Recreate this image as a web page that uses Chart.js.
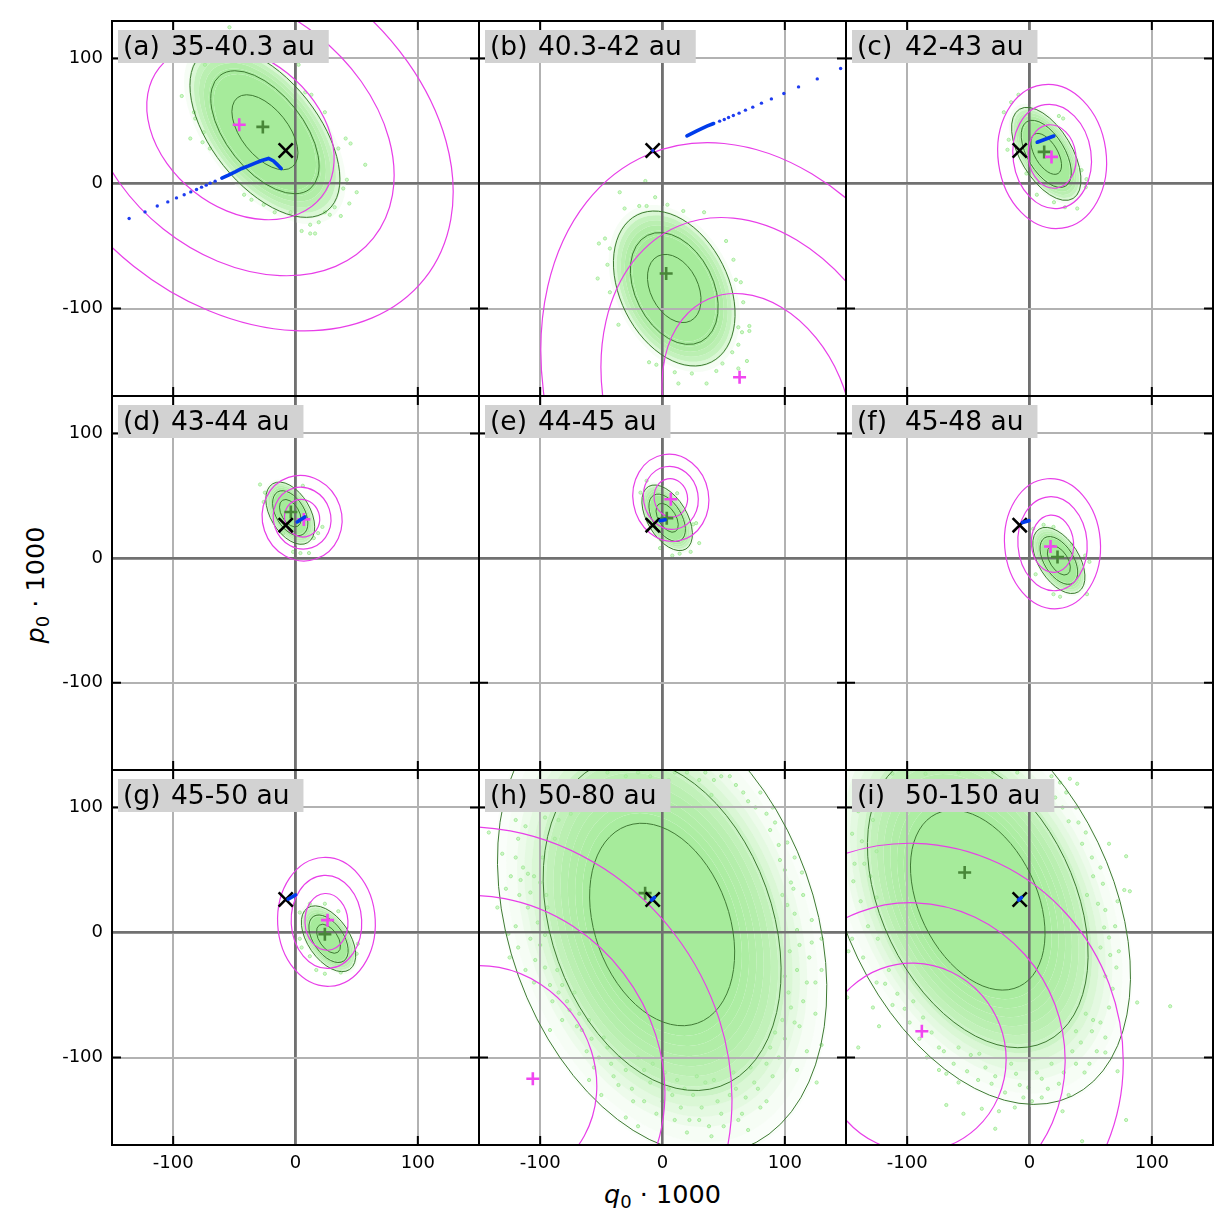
<!DOCTYPE html>
<html><head><meta charset="utf-8">
<script src="https://cdn.jsdelivr.net/npm/chart.js@4"></script>
<style>
html,body{margin:0;padding:0;background:#fff;width:1232px;height:1224px;overflow:hidden}
canvas{position:absolute;display:block}
.ax{position:absolute;font-family:"DejaVu Sans";font-size:25.5px;color:#000;white-space:nowrap;line-height:30px}
.ax sub{font-size:18px;line-height:0;vertical-align:-5px}
</style></head><body>
<div class="ax" style="left:604px;top:1179px"><i>q</i><sub>0</sub> · 1000</div>
<div class="ax" style="left:35px;top:585px;transform:translate(-50%,-50%) rotate(-90deg)"><i>p</i><sub>0</sub> · 1000</div>
<script>
const panelTags=["(a)","(b)","(c)","(d)","(e)","(f)","(g)","(h)","(i)"];
const panelRanges=["35-40.3 au","40.3-42 au","42-43 au","43-44 au","44-45 au","45-48 au","45-50 au","50-80 au","50-150 au"];
const tickValues=[-100,0,100];
const contourLevels=[1,1.64,2.27];
// centre q, centre p, half-width, half-height, correlation of the innermost contour
const greenContours=[[-25,41,27,30,-.55],[9.6,-84,21.9,27.3,-.33],[13.7,23.7,12.5,16.4,-.56],[-4.3,36,8.8,11,-.45],[3.8,32.3,9.1,11.6,-.5],[24,-1.9,9.4,11.7,-.5],[27,-5,9.8,11.6,-.5],[-.3,6.4,59.3,81,-.28],[-42.3,25.9,55,72,-.37]];
const magentaContours=[[-45,41,76.6,70,-.3],[77.6,-183,78,95,-.23],[18.5,21.6,19.6,25.4,-.08],[5.4,32,14.4,15.1,-.05],[6.8,48.3,13.7,15.4,-.05],[18.8,11.5,17.3,23,-.05],[25.3,8.5,17.6,22.7,-.03],[-140.7,-114,87,87.5,-.1],[-94.5,-100,75.4,75.5,-.02]];
// density of the sample cloud: [contour scale, tone], outermost first
const compactCloud=[[2.45,.1],[2.3,.42],[2.15,.66],[2.0,.78],[1.85,.88],[1.7,.96],[1.55,1]];
const wideCloud=[[2.3,.05],[2.15,.1],[2.0,.2],[1.9,.3],[1.8,.42],[1.7,.58],[1.6,.7],[1.5,.78],[1.4,.84],[1.3,.88],[1.2,.92],[1.1,.96],[1,1]];
const cloudBands=[compactCloud,compactCloud,compactCloud,compactCloud,compactCloud,compactCloud,compactCloud,wideCloud,wideCloud];
const greenPlus=[[-26.7,45.3],[3,-72],[12,25.3],[-3.8,37],[3.5,32],[22.9,.8],[24,-1.3],[-14.2,31.5],[-53,48]];
const magentaPlus=[[-46,47],[63,-155],[18,21.3],[6.8,31],[6.8,47.2],[17.2,9.3],[26.2,9.9],[-106,-117],[-88,-79]];
const blackCross=[-8,26.4];
const blueTrails=[
 [[-11.7,12],[-15.3,15.5],[-18,18.1],[-22,20],[-27.5,18.4],[-33,16.3],[-38.4,14.1],[-43.9,12],[-49.3,9.3],[-54.8,6.7],[-60.2,4.3]],
 [[20,38.1],[28.1,42.1],[36.3,45.9],[41.8,48]],
 [[6.3,33],[19.9,38]],[[1.4,29],[7.6,33]],[[-1.9,29.9],[2.2,30.7]],[[-5.7,28.5],[-.5,30]],[[-6,26.7],[0,30]],
 [[-9,26],[-6.5,28]],[[-9,26],[-6.5,28]]];
const blueDots=[
 [[-65.7,1.9],[-69.8,.3],[-73,-1.3],[-76.8,-2.9],[-80.9,-4.8],[-85.6,-6.7],[-91,-9],[-97.3,-11.5],[-104.4,-14.7],[-113,-18],[-123,-22.7],[-136,-28]],
 [[-8,26.4],[46.7,49.9],[50.5,51.2],[54,52.8],[57.9,54.4],[62.6,56.3],[67.8,58.7],[73.8,61.1],[80.9,64.3],[89,67.7],[99.2,72],[111.2,77.3],[126.5,83.7],[145.6,92]],
 [],[],[],[],[],[],[]];
const cloudDots=[
 [[-54,125],[-93,70],[-86,36],[-76,33],[41,36],[45,32],[35,28],[57,15],[42,3],[50,-7],[44,-16],[37,-26],[28,-25],[5,-38],[12,-40],[16,-40],[12,-33],[19,-31],[-26,-17],[-42,-9],[-36,-13],[-17,-23],[-4,-23],[24,-23],[32,-19],[39,-4],[-82,52],[-83,57],[-74,95],[-75,41],[-70,28],[24,57],[13,71],[2.5,95],[8,73]],
 [[-14,2],[-35,-7],[-6,-11],[-31,-20],[-19,-18],[-13,-18],[4,-17],[17,-22],[34,-23],[-47,-44],[-52,-48],[-43,-52],[-45,-65],[-53,-76],[52,-46],[58,-61],[60,-77],[64,-79],[66,-95],[71,-114],[71,-118],[62,-115],[65,-119],[62,-129],[57,-135],[69,-142],[62,-148],[49,-144],[44,-150],[36,-160],[13,-160],[10,-151],[24,-152],[-5,-145],[-11,-143],[-36,-113],[-43,-87]],
 [[-9,71],[-15,65],[-21,57],[27.5,52],[24,54],[-18,27],[-17,35],[46.6,3.5],[46,-3],[42.5,10.7],[39,-20],[29,-19],[20,-15],[6,-9],[-2.5,8]],
 [[-29,59],[-25,52.5],[-26,45],[6,58],[22,25],[18.5,20],[15,16],[11,4],[4,4],[-2,5],[-10,20]],
 [[-18,52.5],[-13,62],[12,52],[30,12],[25,27],[23,5],[8,2],[14,3.5],[-2,8],[27.5,28]],
 [[3,23.5],[11.5,26.7],[19.6,25],[5,-13],[49,-3],[47,-29],[25,-31],[19.6,-29],[45.5,2],[34.6,10.7]],
 [[3.5,16],[11.7,23],[24,23],[35,17],[3.5,-5],[5,-12],[11.7,-19],[17,-30],[24,-33],[37,-32],[50,-17],[51,-9]],
 [[-142,80],[-131,63],[-120,90],[-120,60],[-114,52],[-110,47],[-128,35],[-135,20],[-120,5],[-117,30],[-105,45],[-110,20],[-126,-1],[-108,-5],[-112,-30],[-105,-40],[-100,-10],[-90,-55],[-85,-48],[-82,-70],[-78,-55],[-70,-75],[-68,-65],[-92,-78],[-58,-85],[-52,-100],[-45,-92],[-40,-115],[-35,-100],[-25,-125],[-15,-110],[-15,-135],[-5,-145],[5,-125],[10,-150],[15,-140],[25,-130],[30,-150],[35,-120],[45,-135],[50,-155],[60,-125],[65,-145],[75,-120],[80,-140],[90,-115],[95,-100],[100,-85],[112,-75],[118,-95],[105,-60],[115,-55],[125,-40],[120,-20],[112,-10],[130,-5],[122,10],[108,15],[115,30],[125,-65],[105,40],[100,50],[108,60],[95,70],[88,82],[90,100],[80,112],[70,105],[60,118],[48,125],[40,110],[30,122],[100,-35],[130,-30],[-95,30],[-98,60],[-88,75],[-75,95],[-60,110],[-50,120],[-30,125],[-10,125],[10,128],[-70,115],[-125,-20],[-60,-118],[-50,-130],[-30,-148],[-20,-155],[20,-160],[40,-163],[70,-158],[85,-135],[110,-110],[130,-90],[126,-120],
  [-118,75],[-112,85],[-105,100],[-96,92],[-90,105],[-82,112],[-124,45],[-116,42],[-108,32],[-100,40],[-94,20],[-102,8],[-96,-2],[-118,-12],[-104,-22],[-96,-28],[-92,-42],[-86,-30],[-82,-42],[-76,-62],[-72,-48],[-66,-78],[-60,-70],[-62,-95],[-56,-108],[-48,-84],[-42,-105],[-36,-122],[-30,-110],[-24,-135],[-20,-100],[-10,-120],[-8,-105],[0,-135],[2,-112],[8,-130],[12,-118],[18,-125],[22,-150],[28,-115],[32,-140],[38,-155],[42,-118],[48,-145],[55,-130],[58,-112],[62,-150],[68,-132],[72,-108],[78,-125],[85,-105],[88,-92],[92,-80],[98,-70],[103,-48],[108,-72],[110,-30],[104,-15],[110,2],[102,22],[107,35],[114,48],[118,-40],[122,-8],[98,30],[96,58],[102,72],[92,88],[85,95],[76,100],[66,112],[55,125],[42,122],[35,128],[-85,90],[-78,105],[-68,120],[-45,128],[-20,128],[5,122],[20,128]],
 [[79,61],[82,33],[77.5,34],[65,71],[39,119],[33,123],[88,-56],[115,-59],[79,-150],[43,-167],[-28,-157],[-25,-143],[-39,-141],[-54,-145],[-68,-138],[-140,-92],[-123,-75],[-128,-60],[-148,-15],[-144,41],[-149,-52],[-136,-20],[-118,-41],[-108,-49],[-102,-61],[-87,-68],[-74,-92],[-58,-92],[-68,-113],[-51,-111],[-41,-97],[-31,-121],[-11,-113],[-1,-124],[10,-117],[24,-121],[27,-143],[10,-132],[-5,-132],[38,-105],[49,-105],[62,-96],[62,-84],[72,-111],[65,-60],[71,-28],[65,-4],[73,-15],[61,4],[56,23],[60,39],[51,60],[43,71],[32,89],[27,100],[21,108],[46,-65],[38,-79],[51,-79],[-140,97],[-145,79],[-143,55],[-135,55],[-137,73],[-126,119],[-112,127],[-85,127],[-58,128],
  [-135,110],[-128,90],[-120,105],[-125,65],[-130,45],[-138,25],[-125,28],[-132,5],[-145,-5],[-124,-5],[-115,-30],[-125,-40],[-112,-58],[-95,-55],[-98,-72],[-90,-85],[-80,-80],[-84,-100],[-70,-95],[-62,-105],[-74,-110],[-58,-120],[-48,-98],[-42,-118],[-36,-108],[-28,-115],[-20,-128],[-15,-105],[-8,-122],[-12,-140],[2,-135],[6,-112],[15,-125],[18,-105],[28,-112],[32,-130],[35,-95],[42,-88],[45,-112],[55,-95],[52,-70],[58,-72],[68,-45],[62,-35],[66,-18],[58,-12],[70,5],[62,18],[72,25],[52,45],[58,52],[47,30],[40,88],[46,80],[38,100],[30,112],[25,120],[18,125],[12,118],[-30,128],[-10,128]]
];

const colLeft=[112,479,846,1213], rowTop=[21,396,770,1145];
const FILL='166,235,155';

function ellipsePath(ctx,x,y,e,lev){
  const [cx,cy,X,Y,r]=e;
  const sx=Math.abs(x.getPixelForValue(1)-x.getPixelForValue(0)), sy=Math.abs(y.getPixelForValue(1)-y.getPixelForValue(0));
  const a=(X*sx)**2,c=(Y*sy)**2,b=-r*X*Y*sx*sy;
  const m=(a+c)/2,d=Math.sqrt(((a-c)/2)**2+b*b);
  const th=.5*Math.atan2(2*b,a-c);
  ctx.beginPath();
  ctx.ellipse(x.getPixelForValue(cx),y.getPixelForValue(cy),Math.sqrt(m+d)*lev,Math.sqrt(Math.max(m-d,0))*lev,th,0,Math.PI*2);
}
const panelPlugin={
  id:'panel',
  beforeDatasetsDraw(chart){
    const i=chart.options.panelIndex,ctx=chart.ctx,A=chart.chartArea,x=chart.scales.x,y=chart.scales.y;
    ctx.save();ctx.beginPath();ctx.rect(A.left,A.top,A.width,A.height);ctx.clip();
    for(const [lev,tone] of cloudBands[i]){
      ellipsePath(ctx,x,y,greenContours[i],lev);
      ctx.fillStyle='#fff';ctx.fill();
      ctx.fillStyle=`rgba(${FILL},${tone})`;ctx.fill();
    }
    ctx.restore();
  },
  afterDatasetDraw(chart,args){
    if(chart.data.datasets[args.index].role!=='cloud')return;
    const i=chart.options.panelIndex,ctx=chart.ctx,A=chart.chartArea,x=chart.scales.x,y=chart.scales.y;
    x.drawGrid(A);y.drawGrid(A);
    ctx.save();ctx.beginPath();ctx.rect(A.left,A.top,A.width,A.height);ctx.clip();
    for(const lev of contourLevels){
      ellipsePath(ctx,x,y,greenContours[i],lev);ctx.strokeStyle='rgb(62,122,50)';ctx.lineWidth=1;ctx.stroke();
    }
    for(const lev of contourLevels){
      ellipsePath(ctx,x,y,magentaContours[i],lev);ctx.strokeStyle='rgb(232,62,232)';ctx.lineWidth=1.2;ctx.stroke();
    }
    ctx.restore();
  },
  afterDatasetsDraw(chart){
    const i=chart.options.panelIndex,ctx=chart.ctx,A=chart.chartArea,x=chart.scales.x,y=chart.scales.y;
    ctx.save();
    ctx.strokeStyle='#000';ctx.lineWidth=2;ctx.beginPath();
    for(const v of [-100,100]){
      const px=x.getPixelForValue(v),py=y.getPixelForValue(v);
      ctx.moveTo(px,A.bottom);ctx.lineTo(px,A.bottom-9);ctx.moveTo(px,A.top);ctx.lineTo(px,A.top+9);
      ctx.moveTo(A.left,py);ctx.lineTo(A.left+9,py);ctx.moveTo(A.right,py);ctx.lineTo(A.right-9,py);
    }
    ctx.stroke();
    ctx.strokeRect(A.left,A.top,A.width,A.height);
    ctx.font='26.5px "DejaVu Sans"';ctx.textBaseline='alphabetic';
    const w=ctx.measureText(panelRanges[i]).width;
    ctx.fillStyle='#d2d2d2';ctx.fillRect(A.left+6,A.top+9,57+w+16-6,33);
    ctx.fillStyle='#000';
    ctx.fillText(panelTags[i],A.left+11,A.top+34);
    ctx.fillText(panelRanges[i],A.left+59,A.top+34);
    ctx.restore();
  }
};
const xy=a=>a.map(p=>({x:p[0],y:p[1]}));
const noPad=s=>{s.paddingTop=0;s.paddingBottom=0;s.paddingLeft=0;s.paddingRight=0;};
panelTags.forEach((tag,i)=>{
  const c=i%3,r=Math.floor(i/3);
  const L=colLeft[c],R=colLeft[c+1],T=rowTop[r],B=rowTop[r+1];
  const mL=c===0?112:2,mB=r===2?46:2,mT=2,mR=2;
  const cv=document.createElement('canvas');
  cv.width=R-L+mL+mR;cv.height=B-T+mT+mB;
  cv.style.left=(L-mL)+'px';cv.style.top=(T-mT)+'px';
  cv.style.width=cv.width+'px';cv.style.height=cv.height+'px';
  document.body.appendChild(cv);
  const grid={drawTicks:false,color:t=>t.tick&&t.tick.value===0?'#707070':'#b2b2b2',lineWidth:t=>t.tick&&t.tick.value===0?2.6:2};
  const setTicks=s=>{s.ticks=tickValues.map(v=>({value:v}));};
  new Chart(cv,{
    type:'scatter',
    data:{datasets:[
      {data:xy(blueDots[i]),pointStyle:'circle',pointRadius:1.7,pointBackgroundColor:'rgb(30,60,240)',pointBorderWidth:0,showLine:false},
      {data:xy(blueTrails[i]),showLine:true,borderColor:'rgb(0,60,235)',borderWidth:3.6,borderCapStyle:'round',pointRadius:0},
      {data:xy([blackCross]),pointStyle:'crossRot',pointRadius:10,pointBorderColor:'#000',pointBorderWidth:2.6,showLine:false},
      {data:xy([magentaPlus[i]]),pointStyle:'cross',pointRadius:6.5,pointBorderColor:'rgb(240,70,240)',pointBorderWidth:2.6,showLine:false},
      {data:xy([greenPlus[i]]),pointStyle:'cross',pointRadius:6.5,pointBorderColor:'rgb(72,135,56)',pointBorderWidth:2.6,showLine:false},
      {role:'cloud',data:xy(cloudDots[i]),pointStyle:'circle',pointRadius:1.6,pointBackgroundColor:'rgba(175,238,165,.55)',pointBorderColor:'rgb(166,235,155)',pointBorderWidth:1,showLine:false}
    ]},
    options:{
      panelIndex:i,responsive:false,animation:false,devicePixelRatio:1,
      layout:{autoPadding:false,padding:{top:mT,right:mR,left:0,bottom:0}},
      plugins:{legend:{display:false},tooltip:{enabled:false},title:{display:false}},
      scales:{
        x:{type:'linear',min:-150,max:150,grid,border:{display:false},afterBuildTicks:setTicks,
           afterFit:s=>{s.height=mB;noPad(s);},
           ticks:{display:r===2,padding:8,maxRotation:0,autoSkip:false,color:'#000',font:{family:'"DejaVu Sans"',size:18},callback:v=>String(v)}},
        y:{type:'linear',min:-170,max:130,grid,border:{display:false},afterBuildTicks:setTicks,
           afterFit:s=>{s.width=mL;noPad(s);},
           ticks:{display:c===0,padding:9,autoSkip:false,color:'#000',font:{family:'"DejaVu Sans"',size:18},callback:v=>String(v)}}
      }
    },
    plugins:[panelPlugin]
  });
});
</script></body></html>
